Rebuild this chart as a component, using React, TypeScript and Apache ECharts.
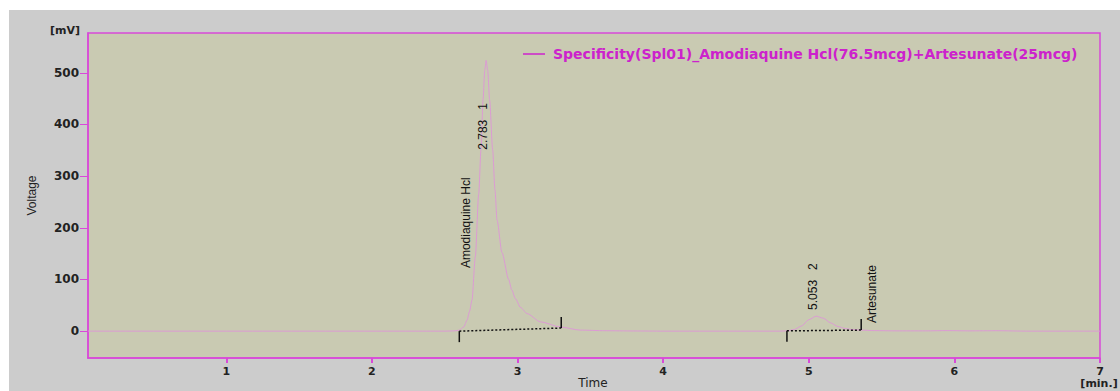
import React, { useEffect, useRef } from "react";
import * as echarts from "echarts";

const seriesName = "Specificity(Spl01)_Amodiaquine Hcl(76.5mcg)+Artesunate(25mcg)";

// retention time [min.]
const timeMin = [
  0.05, 0.5, 1.0, 1.5, 2.0, 2.3, 2.5, 2.57, 2.6, 2.63,
  2.653, 2.67, 2.687, 2.71, 2.733, 2.749, 2.763, 2.775, 2.784, 2.795,
  2.808, 2.829, 2.845, 2.859, 2.893, 2.939, 2.96, 2.985, 3.02, 3.065,
  3.157, 3.294, 3.43, 3.6, 3.8, 4.0, 4.5, 4.8, 4.85, 4.9,
  4.95, 5.0, 5.05, 5.1, 5.15, 5.2, 5.25, 5.3, 5.36, 5.45,
  5.6, 5.8, 5.95, 6.1, 6.3, 6.5, 6.8, 7.0,
];
// detector response [mV]
const voltageMv = [
  0, 0, 0, 0, 0, 0, 0, 0.5, 2, 8,
  21, 38, 60, 144, 265, 351, 448, 505, 524, 505,
  448, 351, 273, 215, 152, 100, 80, 63, 46, 34,
  18, 8, 2, 0.8, 0.3, 0, 0, 0, 0.5, 3,
  10, 22, 29, 25, 16, 9, 5, 3, 2, 1,
  0.5, 0.5, 1, 0.5, 0.8, 0, 0, 0,
];

const yTicks = [0, 100, 200, 300, 400, 500];
const xTicks = [1, 2, 3, 4, 5, 6, 7];

const peakRT = ["2.783", "5.053"];
const peakNo = ["1", "2"];
const peakNames = ["Amodiaquine Hcl", "Artesunate"];
const baseStartT = [2.6, 4.85];
const baseStartV = [0, 0.5];
const baseEndT = [3.3, 5.36];
const baseEndV = [6, 2];

// annotation anchors (data space): bottom end of rotated texts
const rtLabelT = [2.765, 5.031];
const rtLabelV = [351, 41];
const nameLabelT = [2.646, 5.437];
const nameLabelV = [122, 15.5];

const MAGENTA = "#d84ad8";

export default function App() {
  const ref = useRef<HTMLDivElement>(null);
  useEffect(() => {
    if (!ref.current) return;
    const chart = echarts.init(ref.current, null, { renderer: "svg" });
    const curve = timeMin.map((t, i) => [t, voltageMv[i]]);
    const baselines = baseStartT.map((t, i) => ({
      type: "line",
      name: "baseline" + (i + 1),
      data: [
        [t, baseStartV[i]],
        [baseEndT[i], baseEndV[i]],
      ],
      showSymbol: false,
      symbol: "none",
      silent: true,
      lineStyle: { color: "#111", width: 1.5, type: [2, 2] },
      z: 3,
    }));
    const axisFont = { fontFamily: "DejaVu Sans", fontWeight: "bold" as const, fontSize: 11, color: "#222" };
    chart.setOption({
      animation: false,
      backgroundColor: "transparent",
      grid: {
        left: 79,
        top: 23,
        right: 20,
        bottom: 33,
        outerBoundsMode: "none",
        containLabel: false,
        show: true,
        backgroundColor: "#c9cab2",
        borderColor: MAGENTA,
        borderWidth: 1.5,
      },
      legend: {
        data: [seriesName],
        left: 509,
        top: 32,
        icon: "rect",
        itemWidth: 22,
        itemHeight: 1.5,
        textStyle: {
          fontFamily: "DejaVu Sans",
          fontWeight: "bold",
          fontSize: 14,
          color: "#cc22cc",
          padding: [0, 0, 0, 3],
        },
      },
      xAxis: {
        type: "value",
        min: 0.05,
        max: 7,
        axisLine: { show: true, onZero: false, lineStyle: { color: MAGENTA, width: 1.5 } },
        axisTick: { show: true, length: 5, customValues: xTicks, lineStyle: { color: MAGENTA, width: 2 } },
        axisLabel: { ...axisFont, margin: 8, customValues: xTicks, showMaxLabel: true },
        splitLine: { show: false },
      },
      yAxis: {
        type: "value",
        min: -52,
        max: 577,
        name: "Voltage",
        nameLocation: "middle",
        nameGap: 50,
        nameTextStyle: { fontFamily: "Liberation Sans", fontSize: 12, color: "#222" },
        axisLine: { show: true, onZero: false, lineStyle: { color: MAGENTA, width: 1.5 } },
        axisTick: { show: true, length: 8, customValues: yTicks, lineStyle: { color: MAGENTA, width: 1 } },
        axisLabel: { ...axisFont, fontSize: 12, margin: 9, customValues: yTicks },
        splitLine: { show: false },
      },
      series: [
        {
          type: "line",
          name: seriesName,
          data: curve,
          showSymbol: false,
          symbol: "none",
          smooth: 0.25,
          smoothMonotone: "x",
          lineStyle: { color: "#dc9ad4", width: 1 },
          itemStyle: { color: "#cc22cc" },
          z: 2,
        },
        ...baselines,
      ],
    });

    const g: any[] = [];
    const txt = { fontFamily: "Liberation Sans", fontSize: 12, fill: "#111" };
    for (let i = 0; i < peakRT.length; i++) {
      const s = chart.convertToPixel({ gridIndex: 0 }, [baseStartT[i], baseStartV[i]]) as number[];
      const e = chart.convertToPixel({ gridIndex: 0 }, [baseEndT[i], baseEndV[i]]) as number[];
      g.push({ type: "line", silent: true, z: 10, shape: { x1: s[0], y1: s[1], x2: s[0], y2: s[1] + 11 }, style: { stroke: "#111", lineWidth: 1.5 } });
      g.push({ type: "line", silent: true, z: 10, shape: { x1: e[0], y1: e[1], x2: e[0], y2: e[1] - 11 }, style: { stroke: "#111", lineWidth: 1.5 } });
      const r = chart.convertToPixel({ gridIndex: 0 }, [rtLabelT[i], rtLabelV[i]]) as number[];
      g.push({
        type: "text", silent: true, z: 10, x: r[0], y: r[1], rotation: Math.PI / 2,
        style: { ...txt, text: peakRT[i] + "   " + peakNo[i], align: "left", verticalAlign: "middle" },
      });
      const n = chart.convertToPixel({ gridIndex: 0 }, [nameLabelT[i], nameLabelV[i]]) as number[];
      g.push({
        type: "text", silent: true, z: 10, x: n[0], y: n[1], rotation: Math.PI / 2,
        style: { ...txt, text: peakNames[i], align: "left", verticalAlign: "middle" },
      });
    }
    g.push({
      type: "text", silent: true, x: 71, y: 20,
      style: { text: "[mV]", fontFamily: "DejaVu Sans", fontWeight: "bold", fontSize: 11, fill: "#222", align: "right", verticalAlign: "middle" },
    });
    g.push({
      type: "text", silent: true, x: 1090, y: 373,
      style: { text: "[min.]", fontFamily: "DejaVu Sans", fontWeight: "bold", fontSize: 11, fill: "#222", align: "center", verticalAlign: "middle" },
    });
    g.push({
      type: "text", silent: true, x: 584, y: 367,
      style: { text: "Time", fontFamily: "DejaVu Sans", fontSize: 12, fill: "#222", align: "center", verticalAlign: "top" },
    });
    chart.setOption({ graphic: g });
    return () => chart.dispose();
  }, []);

  return (
    <div style={{ position: "absolute", left: 0, top: 0, width: 1120, height: 391, background: "#ffffff", overflow: "hidden" }}>
      <div style={{ position: "absolute", left: 9, top: 10, width: 1111, height: 381, background: "#cccccc" }}>
        <div ref={ref} style={{ width: 1111, height: 381 }} />
      </div>
    </div>
  );
}
